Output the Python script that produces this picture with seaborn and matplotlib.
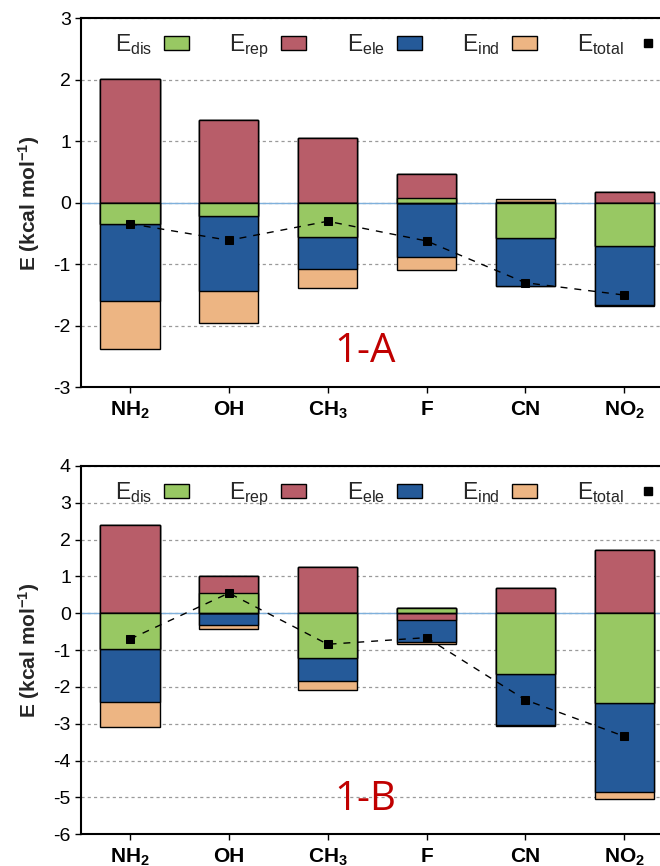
import numpy as np
import pandas as pd
import matplotlib
matplotlib.use('Agg')
import matplotlib.pyplot as plt
import seaborn as sns
from matplotlib.patches import Patch
from matplotlib.lines import Line2D

# ---------------- data ----------------
cat_keys = ['NH2', 'OH', 'CH3', 'F', 'CN', 'NO2']
cat_labels = ['NH$_{\\mathbf{2}}$', 'OH', 'CH$_{\\mathbf{3}}$', 'F', 'CN', 'NO$_{\\mathbf{2}}$']
legend_labels = ['E$_{\\rm dis}$', 'E$_{\\rm rep}$', 'E$_{\\rm ele}$', 'E$_{\\rm ind}$', 'E$_{\\rm total}$']

# panel 1-A
dis_A = [-0.35, -0.22, -0.55, 0.07, -0.57, -0.70]
rep_A = [2.01, 1.35, 1.06, 0.40, 0.01, 0.18]
ele_A = [-1.25, -1.21, -0.52, -0.88, -0.79, -0.96]
ind_A = [-0.77, -0.53, -0.31, -0.21, 0.05, -0.02]
tot_A = [-0.34, -0.61, -0.30, -0.62, -1.30, -1.50]

# panel 1-B
dis_B = [-0.97, 0.55, -1.22, 0.15, -1.65, -2.43]
rep_B = [2.40, 0.45, 1.26, -0.18, 0.69, 1.71]
ele_B = [-1.44, -0.33, -0.63, -0.59, -1.37, -2.42]
ind_B = [-0.68, -0.09, -0.23, -0.05, -0.03, -0.19]
tot_B = [-0.70, 0.55, -0.84, -0.66, -2.35, -3.34]

colors = ['#98c863', '#b85d69', '#255a99', '#edb583']

# ---------------- style ----------------
sns.set_theme(style='ticks')
plt.rcParams['font.family'] = ['Liberation Sans', 'DejaVu Sans']
plt.rcParams['mathtext.fontset'] = 'custom'
plt.rcParams['mathtext.rm'] = 'Liberation Sans'
plt.rcParams['mathtext.bf'] = 'Liberation Sans:bold'
plt.rcParams['mathtext.it'] = 'Liberation Sans:italic'
plt.rcParams['axes.unicode_minus'] = False

fig = plt.figure(figsize=(6.6, 8.66), dpi=100)
W, H = 660.0, 866.0
axA = fig.add_axes([80.6 / W, (H - 387.3) / H, 593.0 / W, 369.0 / H])
axB = fig.add_axes([80.6 / W, (H - 834.3) / H, 593.0 / W, 368.3 / H])


def draw_panel(ax, comps, total, ylim, tag):
    vals = np.array(comps, dtype=float)
    pos = np.clip(vals, 0, None).cumsum(axis=0)
    neg = np.clip(vals, None, 0).cumsum(axis=0)
    for k in reversed(range(vals.shape[0])):
        df = pd.DataFrame({'cat': cat_keys, 'pos': pos[k], 'neg': neg[k]})
        for col in ['pos', 'neg']:
            sns.barplot(data=df, x='cat', y=col, order=cat_keys, color=colors[k],
                        saturation=1, width=0.6, edgecolor='black', linewidth=1.0,
                        errorbar=None, ax=ax, zorder=2)
    sns.lineplot(x=np.arange(len(cat_keys)), y=total, color='black',
                 linestyle=(0, (5, 5)), linewidth=1.0, marker='s', markersize=6,
                 markeredgecolor='black', markerfacecolor='black', ax=ax, zorder=4,
                 errorbar=None)
    ax.set_xlim(-0.5, 5.5)
    ax.set_ylim(*ylim)
    ax.set_yticks(np.arange(ylim[0], ylim[1] + 1, 1))
    ax.set_yticklabels([str(int(v)) for v in np.arange(ylim[0], ylim[1] + 1, 1)], fontsize=14)
    ax.set_xticks(np.arange(len(cat_keys)))
    ax.set_xticklabels(cat_labels, fontsize=15, fontweight='bold')
    ax.set_xlabel('')
    ax.set_ylabel('E (kcal mol$^{\\mathbf{-1}}$)', fontsize=15, fontweight='bold', labelpad=8)
    ax.yaxis.grid(True, linestyle=(0, (2.5, 2.5)), color='#9a9a9a', linewidth=0.9, zorder=0)
    ax.set_axisbelow(True)
    ax.axhline(0, color='#7fb0dc', linewidth=1.0, zorder=1)
    for s in ['left', 'top', 'bottom', 'right']:
        ax.spines[s].set_color('black')
        ax.spines[s].set_linewidth(1.5)
    ax.tick_params(axis='both', direction='out', length=4, width=1, colors='black',
                   left=True, bottom=True, top=False, right=False)
    ax.tick_params(axis='x', pad=5)
    ax.tick_params(axis='y', pad=3)
    handles = [Patch(facecolor=c, edgecolor='black', linewidth=1.0) for c in colors]
    handles.append(Line2D([], [], marker='s', color='black', linestyle='none', markersize=6))
    ax.legend(handles, legend_labels, loc='upper center', bbox_to_anchor=(0.518, 1.0),
              ncol=5, frameon=False, markerfirst=False, fontsize=16.5,
              handlelength=1.1, handleheight=0.57, handletextpad=0.52,
              columnspacing=1.75, borderaxespad=0.2)
    ax.text(0.48, 0.095, tag, transform=ax.transAxes, ha='center', va='center',
            fontsize=29, color='#c00000', family=['Open Sans', 'DejaVu Sans'], zorder=5)


draw_panel(axA, [dis_A, rep_A, ele_A, ind_A], tot_A, (-3, 3), '1-A')
draw_panel(axB, [dis_B, rep_B, ele_B, ind_B], tot_B, (-6, 4), '1-B')

fig.savefig('out.png', dpi=100)
